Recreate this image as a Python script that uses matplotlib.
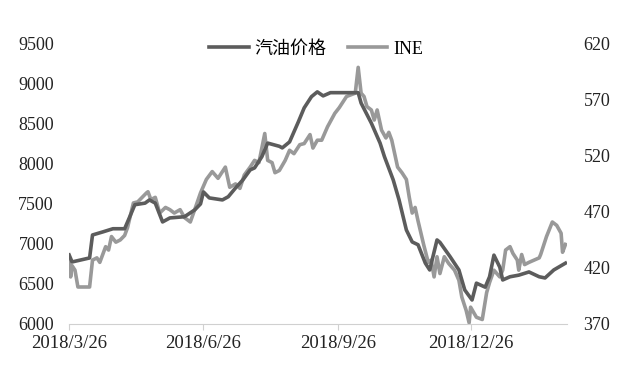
import matplotlib
matplotlib.use("Agg")
import matplotlib.pyplot as plt
import pandas as pd

plt.rcParams['font.family'] = ['Liberation Serif', 'Noto Sans CJK SC']

# 起点 2018/3/26 之后的天数
start = pd.Timestamp("2018-03-26")

gas_days = [0, 2, 14, 16, 23, 30, 38, 42, 45, 52, 55, 59, 64, 69, 79, 86, 90, 92,
            96, 105, 109, 114, 119, 124, 127, 132, 136, 144, 146, 151, 157, 161, 166,
            170, 174, 179, 192, 198, 200, 207, 213, 216, 222, 226, 231, 235, 239, 244,
            247, 252, 254, 261, 267, 271, 276, 279, 285, 288, 291, 295, 297, 302, 308,
            315, 322, 326, 332, 340]
gas_price = [6862, 6775, 6825, 7112, 7150, 7190, 7190, 7360, 7490, 7510, 7550, 7510,
             7275, 7325, 7340, 7425, 7500, 7650, 7575, 7550, 7590, 7700, 7800, 7925,
             7950, 8090, 8260, 8220, 8200, 8275, 8525, 8700, 8840, 8900, 8850, 8890,
             8890, 8890, 8760, 8510, 8260, 8090, 7800, 7550, 7175, 7025, 6990, 6760,
             6675, 7050, 7020, 6840, 6675, 6425, 6300, 6510, 6460, 6590, 6860, 6710,
             6550, 6590, 6610, 6650, 6590, 6575, 6675, 6760]

ine_days = [0, 1, 2, 4, 6, 14, 16, 19, 21, 25, 27, 29, 32, 35, 38, 40, 44, 47, 50,
            53, 54, 56, 59, 62, 66, 69, 72, 76, 79, 83, 86, 90, 94, 98, 102, 107, 110,
            114, 117, 120, 124, 127, 130, 134, 136, 139, 141, 144, 148, 151, 154, 158,
            161, 165, 167, 170, 173, 177, 182, 185, 190, 196, 198, 200, 202, 204, 207,
            209, 211, 214, 217, 219, 221, 225, 228, 231, 233, 235, 237, 239, 243, 246,
            248, 250, 252, 254, 257, 260, 264, 267, 269, 272, 274, 275, 279, 283, 284,
            286, 288, 291, 295, 297, 299, 302, 304, 307, 308, 310, 312, 315, 322, 323,
            327, 331, 334, 337, 338, 340]
ine_price = [430, 412, 422, 418, 403, 403, 427, 429, 425, 439, 436, 448, 443, 445, 449,
             456, 478, 479, 483, 487, 488, 481, 483, 469, 474, 472, 469, 472, 465, 461,
             472, 487, 499, 506, 500, 510, 492, 495, 491, 503, 510, 516, 514, 540, 516,
             514, 505, 507, 516, 525, 522, 530, 531, 539, 527, 534, 534, 546, 558, 563,
             573, 576, 599, 576, 573, 564, 561, 552, 561, 543, 536, 541, 534, 510, 505,
             499, 483, 469, 474, 462, 440, 425, 427, 412, 430, 415, 430, 424, 418, 409,
             394, 382, 371, 385, 376, 374, 382, 398, 407, 418, 412, 418, 436, 439, 433,
             427, 418, 432, 423, 425, 429, 432, 448, 461, 458, 451, 434, 441]

tick_dates = ["2018-03-26", "2018-06-26", "2018-09-26", "2018-12-26"]
tick_labels = ["2018/3/26", "2018/6/26", "2018/9/26", "2018/12/26"]

gas_x = [start + pd.Timedelta(days=d) for d in gas_days]
ine_x = [start + pd.Timedelta(days=d) for d in ine_days]

fig = plt.figure(figsize=(6.23, 3.88), dpi=100)
ax = fig.add_axes([0.111, 0.165, 0.799, 0.722])
ax2 = ax.twinx()

l1, = ax.plot(gas_x, gas_price, color='#5c5c5c', lw=2.6, label='汽油价格', zorder=3)
l2, = ax2.plot(ine_x, ine_price, color='#999999', lw=2.6, label='INE', zorder=2)
ax.set_zorder(ax2.get_zorder() + 1)
ax.patch.set_visible(False)

ax.set_xlim(start, start + pd.Timedelta(days=341))
ax.set_ylim(6000, 9500)
ax.set_yticks(range(6000, 9501, 500))
ax2.set_ylim(370, 620)
ax2.set_yticks(range(370, 621, 50))

ax.set_xticks(pd.to_datetime(tick_dates))
ax.set_xticklabels(tick_labels)

for a in (ax, ax2):
    for s in a.spines.values():
        s.set_visible(False)
ax.spines['bottom'].set_visible(True)
ax.spines['bottom'].set_color('#d0d0d0')
ax.tick_params(axis='x', length=4, color='#d0d0d0', labelsize=13.5, pad=4, labelcolor='#222222')
ax.tick_params(axis='y', length=0, labelsize=13, pad=11, labelcolor='#222222')
ax2.tick_params(axis='y', length=0, labelsize=13, pad=12, labelcolor='#222222')

fig.legend(handles=[l1, l2], loc='center', bbox_to_anchor=(0.507, 0.873), ncol=2,
           frameon=False, fontsize=13, handlelength=2.2, handletextpad=0.3,
           columnspacing=1.2)

fig.savefig('out.png', dpi=100)
